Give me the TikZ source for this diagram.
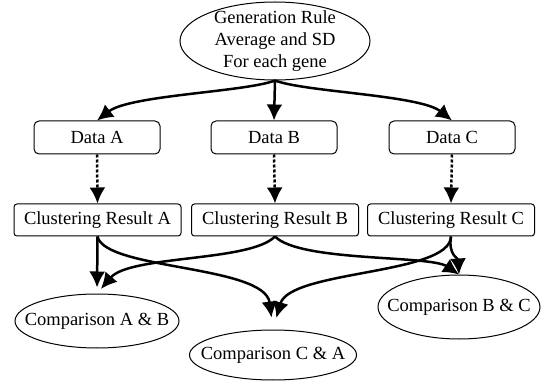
\documentclass[tikz,border=0pt]{standalone}
\usepackage{fontspec}
\setmainfont{Liberation Serif}
\usetikzlibrary{arrows.meta,shapes.geometric}

\begin{document}
\begin{tikzpicture}
                [
                x=1pt, y=-1pt,
                every node/.style={font=\fontsize{18.5}{22}\selectfont},
                databox/.style={draw,rounded corners=5pt,line width=1pt,minimum width=126pt,minimum height=33pt,inner sep=0pt},
                resultbox/.style={draw,rounded corners=3pt,line width=1pt,minimum width=167pt,minimum height=32pt,inner sep=0pt},
                oval/.style={ellipse,draw,line width=1pt,inner sep=0pt},
                edge/.style={-{Latex[length=16pt,width=16pt]},line width=2.5pt},
                dotedge/.style={edge,dash pattern=on 3pt off 2pt}
                ]
            \useasboundingbox (0,0) rectangle (541,382);
            \node[oval,minimum width=190pt,minimum height=78pt,
                  label={[align=center]center:Generation Rule\\Average and SD\\For each gene}] (gen) at (275,41) {};
            \node[databox] (dataA) at (97,137.5) {Data A};
            \node[databox] (dataB) at (274,137.5) {Data B};
            \node[databox] (dataC) at (452,137.5) {Data C};
            \node[resultbox] (clA) at (97.5,220) {Clustering Result A};
            \node[resultbox] (clB) at (275,220) {Clustering Result B};
            \node[resultbox] (clC) at (451,220) {Clustering Result C};
            \node[oval,minimum width=164pt,minimum height=54pt,label=center:{Comparison A \& B}] (cmpAB) at (97,321) {};
            \node[oval,minimum width=167pt,minimum height=50pt,label=center:{Comparison C \& A}] (cmpCA) at (273,355) {};
            \node[oval,minimum width=162pt,minimum height=64pt,label=center:{Comparison B \& C}] (cmpBC) at (459,307) {};
            \draw[edge] (gen.south) .. controls (245,92) and (130,95) .. (dataA.north);
            \draw[edge] (gen.south) -- (dataB.north);
            \draw[edge] (gen.south) .. controls (305,92) and (420,95) .. (dataC.north);
            \draw[dotedge] (dataA.south) -- (clA.north);
            \draw[dotedge] (dataB.south) -- (clB.north);
            \draw[dotedge] (dataC.south) -- (clC.north);
            \draw[edge,shorten >=6pt] (clA.south) -- (cmpAB.north);
            \draw[edge,shorten >=12pt] (clA.south) .. controls (105,270) and (265,265) .. (cmpCA.north);
            \draw[edge,shorten >=6pt] (clB.south) .. controls (250,262) and (130,255) .. (cmpAB.north);
            \draw[edge] (clB.south) .. controls (300,262) and (430,255) .. (cmpBC.north);
            \draw[edge,shorten >=12pt] (clC.south) .. controls (450,275) and (290,270) .. (cmpCA.north);
            \draw[edge] (clC.south) .. controls (448,255) and (458,258) .. (cmpBC.north);
            \end{tikzpicture}
\end{document}
